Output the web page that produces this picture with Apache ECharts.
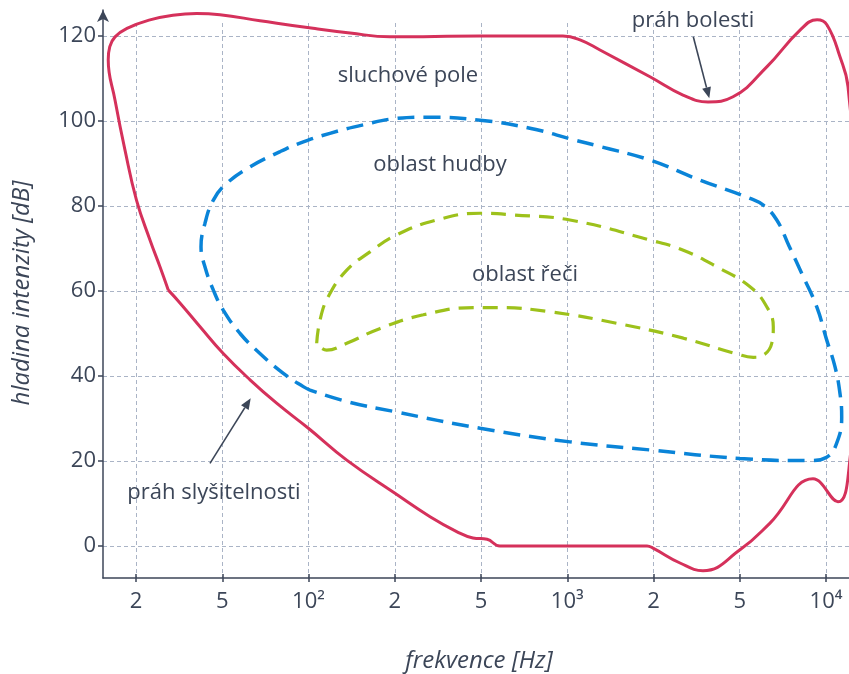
<!DOCTYPE html>
<html>
<head>
<meta charset="utf-8">
<script src="https://cdn.jsdelivr.net/npm/echarts@6/dist/echarts.min.js"></script>
<style>html,body{margin:0;padding:0;background:#fff}#c{width:849px;height:674px}</style>
</head>
<body>
<div id="c"></div>
<script>
// ---- data (frequency in Hz, level in dB) ----
const tickFreqs = [20, 50, 100, 200, 500, 1000, 2000, 5000, 10000];
const tickLabels = ['2', '5', '10²', '2', '5', '10³', '2', '5', '10⁴'];
const yTicks = [0, 20, 40, 60, 80, 100, 120];

// hearing field: threshold of hearing (bottom) + threshold of pain (top), closed loop
const hearingFreq = [28.2, 25.8, 23.2, 20.1, 18.3, 16.9, 16.0, 16.2, 16.9, 18.6, 23.2, 29.6, 38.1, 48.8, 67.7, 103.7, 139.6, 192.5, 494.6, 966, 1108, 1301, 1944, 2736, 3569, 4655, 6225, 8117, 9306, 10083, 11189, 11933, 13360, 12033, 11011, 9006, 6377, 5010, 3384, 2650, 1992, 1899, 582, 525, 459, 386, 291, 200.5, 136, 99.9, 77.4, 62.5, 50.4, 39.5, 31.9, 28.2];
const hearingDb = [60.2, 65.7, 72.0, 81.4, 93.2, 104.9, 114.4, 117.5, 119.8, 121.8, 123.8, 124.9, 125.3, 125.0, 123.6, 121.8, 120.7, 119.8, 120.0, 120.0, 119.1, 116.7, 110.4, 106.1, 104.5, 105.7, 112.8, 121.4, 123.8, 122.6, 115.1, 108.1, 62.6, 18.4, 10.4, 15.8, 5.4, -0.9, -5.8, -4.0, -0.5, 0, 0, 1.6, 1.9, 3.4, 6.9, 12.4, 20.2, 27.7, 33.6, 39.1, 45.3, 51.6, 57.2, 60.2];

// music area
const musicFreq = [101.2, 95.9, 81.7, 67.7, 57.7, 50.4, 45.5, 41.6, 39.9, 41.6, 45.5, 51.8, 62.5, 79.6, 93.4, 118.8, 155.3, 204, 281, 495, 741, 1064, 1301, 1944, 3277, 5430, 6042, 6732, 7430, 8312, 9279, 10055, 10747, 11189, 11345, 10897, 10055, 8790, 5010, 1944, 1022, 495, 200.5, 136, 101.2];
const musicDb = [36.7, 37.5, 40.6, 45.3, 50.0, 55.5, 60.2, 65.7, 70.4, 75.9, 81.4, 85.3, 89.2, 92.8, 94.8, 97.1, 99.1, 100.6, 100.9, 100.2, 98.3, 95.5, 94.0, 90.8, 86.1, 81.8, 80.2, 76.7, 70.6, 63.5, 56.3, 48.5, 42.2, 35.9, 30.4, 24.2, 20.9, 20.1, 20.6, 22.6, 24.5, 27.7, 31.6, 34.0, 36.7];

// speech area
const speechFreq = [106.8, 109.7, 117.3, 136, 163.9, 204, 312, 495, 648, 1022, 1944, 2746, 3915, 5430, 6211, 6547, 6467, 6042, 5575, 4842, 2746, 1488, 871, 567, 461, 271, 178, 136, 115.7, 106.8];
const speechDb = [47.7, 53.2, 58.7, 64.9, 69.2, 73.2, 76.7, 78.3, 77.9, 76.7, 72.0, 69.6, 65.7, 61.0, 56.3, 51.6, 47.7, 44.9, 44.4, 45.2, 48.9, 52.4, 55.1, 56.1, 56.1, 54.4, 51.2, 47.7, 46.1, 47.7];

// ---- axis mapping: 1-2-5 steps are equally spaced on this axis ----
const steps = [10, 20, 50, 100, 200, 500, 1000, 2000, 5000, 10000, 20000]; // step index i <-> position i-1
function toPos(hz) {
  let i = 0;
  while (i < steps.length - 2 && hz > steps[i + 1]) i++;
  return (i - 1) + Math.log(hz / steps[i]) / Math.log(steps[i + 1] / steps[i]);
}
const pts = (f, d) => f.map((hz, i) => [toPos(hz), d[i]]);
const tickPos = tickFreqs.map(toPos);
const posLabel = {};
tickPos.forEach((p, i) => { posLabel[Math.round(p)] = tickLabels[i]; });

// layout (px)
const W = 849, H = 674;
const LEFT = 103, TOP = 10, BOTTOM_PX = 578, GRIDLINE_TOP = 23;
const X0 = 136, XSTEP = 86.25, Y0 = 546, YUNIT = 4.25;
const xMin = (LEFT - X0) / XSTEP, xMax = (W - X0) / XSTEP;
const yMax = (Y0 - TOP) / YUNIT, yMin = (Y0 - BOTTOM_PX) / YUNIT;
const yMaxB = (Y0 - GRIDLINE_TOP) / YUNIT;

const TXT = '#3c4658';
const FONT = "'Open Sans', 'Noto Sans', sans-serif";
const GRIDC = '#aab4c6';

function arrow(x1, y1, x2, y2) {
  const L = 11, hw = 4.5;
  const dx = x2 - x1, dy = y2 - y1, len = Math.hypot(dx, dy);
  const ux = dx / len, uy = dy / len;
  const bx = x2 - ux * L, by = y2 - uy * L;
  return [
    { type: 'line', shape: { x1: x1, y1: y1, x2: bx, y2: by }, style: { stroke: TXT, lineWidth: 1.6 }, z: 10 },
    { type: 'polygon', shape: { points: [[x2, y2], [bx - uy * hw, by + ux * hw], [bx + uy * hw, by - ux * hw]] }, style: { fill: TXT }, z: 10 }
  ];
}
function label(text, x, y, extra) {
  return Object.assign({ type: 'text', x: x, y: y, z: 10,
    style: Object.assign({ text: text, fill: TXT, font: '22px ' + FONT, align: 'center', verticalAlign: 'middle' }, extra || {}) });
}

const chart = echarts.init(document.getElementById('c'), null, { renderer: 'canvas' });
chart.setOption({
  animation: false,
  backgroundColor: '#fff',
  grid: [
    { left: LEFT, right: 0, top: TOP, bottom: H - BOTTOM_PX },
    { left: LEFT, right: 0, top: GRIDLINE_TOP, bottom: H - BOTTOM_PX }
  ],
  xAxis: [
    { type: 'value', gridIndex: 0, min: xMin, max: xMax, position: 'bottom',
      axisLine: { show: true, onZero: false, lineStyle: { color: TXT, width: 1.5 } },
      axisTick: { show: true, length: 4, customValues: tickPos, lineStyle: { color: TXT, width: 1.5 } },
      axisLabel: { show: true, customValues: tickPos, margin: 13, color: TXT, fontSize: 22, fontFamily: FONT,
        formatter: v => posLabel[Math.round(v)] || '' },
      splitLine: { show: false } },
    { type: 'value', gridIndex: 1, min: xMin, max: xMax, position: 'bottom',
      axisLine: { show: false, onZero: false },
      axisTick: { show: true, inside: true, length: 4, customValues: tickPos, lineStyle: { color: TXT, width: 1.5 } },
      axisLabel: { show: false, customValues: tickPos },
      splitLine: { show: true, lineStyle: { color: GRIDC, type: [4, 3], width: 1 } } }
  ],
  yAxis: [
    { type: 'value', gridIndex: 0, min: yMin, max: yMax, position: 'left',
      axisLine: { show: true, onZero: false, symbol: ['none', 'arrow'], symbolSize: [9, 12], lineStyle: { color: TXT, width: 1.5 } },
      axisTick: { show: true, length: 5, customValues: yTicks, lineStyle: { color: TXT, width: 1.5 } },
      axisLabel: { show: true, customValues: yTicks, margin: 7, color: TXT, fontSize: 22, fontFamily: FONT },
      splitLine: { show: true, lineStyle: { color: GRIDC, type: [4, 3], width: 1 } } },
    { type: 'value', gridIndex: 1, min: yMin, max: yMaxB, show: false, axisLine: { onZero: false } }
  ],
  graphic: [].concat(
    arrow(693.3, 36.7, 709.3, 98.3),
    arrow(210, 463.3, 250.7, 398.3),
    [
      label('sluchové pole', 408, 76),
      label('oblast hudby', 440, 165),
      label('oblast řeči', 525, 275),
      label('práh bolesti', 693, 21),
      label('práh slyšitelnosti', 214, 493),
      label('frekvence [Hz]', 479, 661, { font: 'italic 24px ' + FONT }),
      { type: 'text', x: 22, y: 293, rotation: Math.PI / 2, z: 10,
        style: { text: 'hladina intenzity [dB]', fill: TXT, font: 'italic 24px ' + FONT, align: 'center', verticalAlign: 'middle' } }
    ]
  ),
  series: [
    { type: 'line', xAxisIndex: 0, yAxisIndex: 0, data: pts(musicFreq, musicDb), smooth: 0.45, showSymbol: false,
      lineStyle: { color: '#0a84d8', width: 3.5, type: [17, 9] }, z: 3 },
    { type: 'line', xAxisIndex: 0, yAxisIndex: 0, data: pts(speechFreq, speechDb), smooth: 0.45, showSymbol: false,
      lineStyle: { color: '#9dc11b', width: 3.2, type: [15, 9] }, z: 3 },
    { type: 'line', xAxisIndex: 0, yAxisIndex: 0, data: pts(hearingFreq, hearingDb), smooth: 0.45, showSymbol: false,
      lineStyle: { color: '#d5315b', width: 3 }, z: 4 }
  ]
});
</script>
</body>
</html>
